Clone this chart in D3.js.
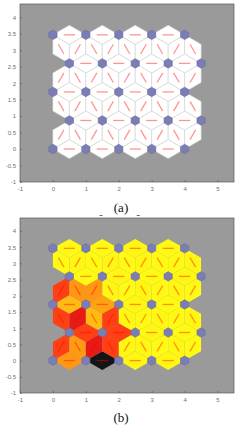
<!DOCTYPE html>
<html>
<head>
<meta charset="utf-8">
<script src="https://cdn.jsdelivr.net/npm/d3@7"></script>
<style>
body { margin: 0; background: #fff; }
svg { display: block; }
.tick text { font-family: "Liberation Sans", Arial, sans-serif; font-size: 6px; fill: #707070; }
.caption { font-family: "Liberation Serif", "Times New Roman", serif; font-size: 13px; fill: #111; }
</style>
</head>
<body>
<svg id="chart" width="243" height="430"></svg>
<script>
// SOM layout (hextop 5x5)
var gridCols = 5;
var gridRows = 5;

var xTicks = [-1, 0, 1, 2, 3, 4, 5];
var yTicks = [-1, -0.5, 0, 0.5, 1, 1.5, 2, 2.5, 3, 3.5, 4];
var xDomain = [-1, 5.5];
var yDomain = [-1, 4.4];
var captions = ['(a)', '(b)'];

// panel (b): neighbour distances, 0 = near (yellow) .. 1 = far (black)
// horizontal links, bottom row first, left to right
var horizDist = [
  [0.23, 1.00, 0.02, 0.02],
  [0.42, 0.42, 0.02, 0.01],
  [0.15, 0.20, 0.02, 0.01],
  [0.01, 0.02, 0.01, 0.02],
  [0.01, 0.01, 0.02, 0.01]
];
// diagonal links between row r and row r+1, ordered by midpoint x (0.25 .. 4.25)
var diagDist = [
  [0.42, 0.22, 0.55, 0.42, 0.02, 0.02, 0.01, 0.02, 0.01],
  [0.42, 0.55, 0.15, 0.42, 0.02, 0.01, 0.02, 0.01, 0.02],
  [0.42, 0.23, 0.23, 0.02, 0.01, 0.02, 0.01, 0.02, 0.01],
  [0.01, 0.02, 0.01, 0.02, 0.01, 0.02, 0.01, 0.01, 0.02]
];

var chartSVG = d3.select('#chart');
var rowH = Math.sqrt(0.75);

var distColor = d3.scaleLinear()
                  .domain([0, 0.5, 1])
                  .range(['#ffff14', '#ff1a14', '#151515'])
                  .clamp(true);

// neuron positions
var neurons = [];
for (var r = 0; r < gridRows; r++)
  for (var c = 0; c < gridCols; c++)
    neurons.push({ r: r, x: c + (r % 2 ? 0.5 : 0), y: r * rowH });

// neighbour links
var links = [];
neurons.forEach((a, i) => {
  neurons.forEach((b, j) => {
    if (j <= i) return;
    var d = Math.hypot(b.x - a.x, b.y - a.y);
    if (d > 1.01) return;
    var mx = (a.x + b.x) / 2, my = (a.y + b.y) / 2;
    var dist;
    if (a.r === b.r) dist = horizDist[a.r][Math.round(Math.min(a.x, b.x) - (a.r % 2 ? 0.5 : 0))];
    else dist = diagDist[Math.min(a.r, b.r)][Math.round((mx - 0.25) / 0.5)];
    links.push({ a: a, b: b, mx: mx, my: my, dist: dist });
  });
});

function drawPanel(top, bottom, idx) {
  var x = d3.scaleLinear().domain(xDomain).range([20, 234]);
  var y = d3.scaleLinear().domain(yDomain).range([bottom, top]);
  var g = chartSVG.append('g');

  g.append('rect')
    .attr('x', x(xDomain[0])).attr('y', y(yDomain[1]))
    .attr('width', x(xDomain[1]) - x(xDomain[0]))
    .attr('height', y(yDomain[0]) - y(yDomain[1]))
    .attr('fill', '#9a9a9a');

  // link regions (rhombus: neuron, centroid, neuron, centroid)
  var off = 1 / (2 * Math.sqrt(3));
  g.selectAll('.link')
    .data(links)
    .enter()
    .append('polygon')
      .classed('link', true)
      .attr('points', d => {
        var ux = d.b.x - d.a.x, uy = d.b.y - d.a.y;
        var nx = -uy, ny = ux;
        return [[d.a.x, d.a.y], [d.mx + nx * off, d.my + ny * off], [d.b.x, d.b.y], [d.mx - nx * off, d.my - ny * off]]
          .map(p => x(p[0]) + ',' + y(p[1])).join(' ');
      })
      .attr('fill', d => idx === 0 ? '#ffffff' : distColor(d.dist))
      .attr('stroke', idx === 0 ? '#d8d8d8' : 'none')
      .attr('stroke-width', 0.7);

  // red connection lines
  g.selectAll('.conn')
    .data(links)
    .enter()
    .append('line')
      .classed('conn', true)
      .attr('x1', d => x(d.mx - (d.b.x - d.a.x) * 0.17))
      .attr('y1', d => y(d.my - (d.b.y - d.a.y) * 0.17))
      .attr('x2', d => x(d.mx + (d.b.x - d.a.x) * 0.17))
      .attr('y2', d => y(d.my + (d.b.y - d.a.y) * 0.17))
      .attr('stroke', '#ff0000')
      .attr('stroke-opacity', 0.42)
      .attr('stroke-width', 1.3);

  // neurons
  var hr = 0.25 / Math.sqrt(3);
  g.selectAll('.neuron')
    .data(neurons)
    .enter()
    .append('polygon')
      .classed('neuron', true)
      .attr('points', d => d3.range(6).map(k => {
        var ang = Math.PI / 2 + k * Math.PI / 3;
        return x(d.x + hr * Math.cos(ang)) + ',' + y(d.y + hr * Math.sin(ang));
      }).join(' '))
      .attr('fill', '#7b7db5')
      .attr('stroke', '#6a6c9f')
      .attr('stroke-width', 0.6);

  var xAxis = d3.axisBottom(x).tickValues(xTicks).tickFormat(d => String(d))
                .tickSizeInner(-2).tickSizeOuter(0).tickPadding(5);
  var yAxis = d3.axisLeft(y).tickValues(yTicks).tickFormat(d => String(d))
                .tickSizeInner(-2).tickSizeOuter(0).tickPadding(4);

  g.append('g')
    .classed('x-axis axis', true)
    .attr('transform', `translate(0, ${bottom})`)
    .call(xAxis);
  g.append('g')
    .classed('y-axis axis', true)
    .attr('transform', `translate(20, 0)`)
    .call(yAxis);
  g.selectAll('.axis .domain').remove();
  g.selectAll('.axis .tick line').attr('stroke', '#555').attr('stroke-width', 0.6);

  g.append('rect')
    .attr('x', x(xDomain[0])).attr('y', y(yDomain[1]))
    .attr('width', x(xDomain[1]) - x(xDomain[0]))
    .attr('height', y(yDomain[0]) - y(yDomain[1]))
    .attr('fill', 'none')
    .attr('stroke', '#5a5a5a')
    .attr('stroke-width', 0.7);
}

drawPanel(4, 182, 0);
drawPanel(218, 393, 1);

chartSVG.append('text').classed('caption', true)
  .attr('x', 121).attr('y', 212).attr('text-anchor', 'middle').text(captions[0]);
chartSVG.append('text').classed('caption', true)
  .attr('x', 121).attr('y', 422).attr('text-anchor', 'middle').text(captions[1]);

// small stray marks under caption (a)
chartSVG.selectAll('.mark')
  .data([99.5, 136.8])
  .enter()
  .append('line')
    .attr('x1', d => d).attr('x2', d => d + 3)
    .attr('y1', 215.5).attr('y2', 215.5)
    .attr('stroke', '#444').attr('stroke-width', 0.8);
</script>
</body>
</html>
